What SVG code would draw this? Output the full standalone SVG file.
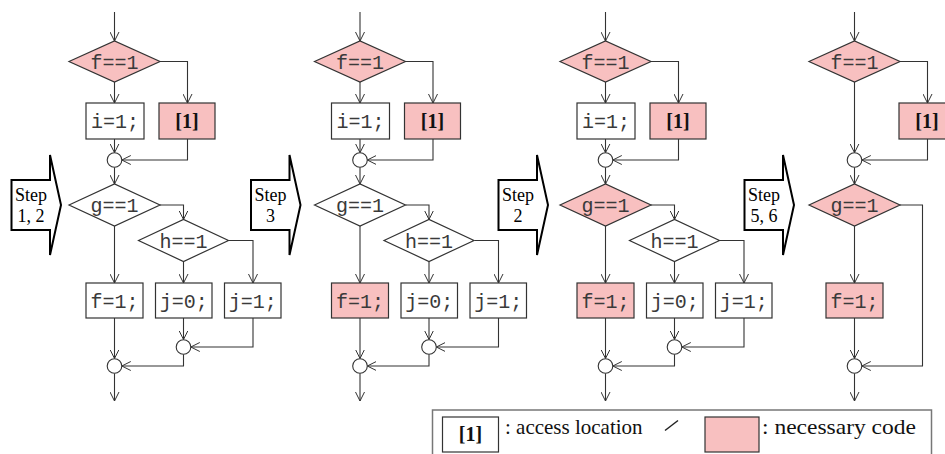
<svg xmlns="http://www.w3.org/2000/svg" width="945" height="454" viewBox="0 0 945 454">
  <style>
    .box { fill: #ffffff; stroke: #333333; stroke-width: 1.2; }
    .need { fill: #F8C0C0; }
    .code { font-family: "Liberation Mono", "Courier New", monospace; font-size: 20px; fill: #3a3a3a; text-anchor: middle; }
    .loc { font-family: "Liberation Serif", "Times New Roman", serif; font-size: 20px; font-weight: bold; fill: #111111; text-anchor: middle; }
    .wire { fill: none; stroke: #333333; stroke-width: 1.1; marker-end: url(#arr); }
    .join { fill: #ffffff; stroke: #333333; stroke-width: 1.1; }
    .step path { fill: #ffffff; stroke: #000000; stroke-width: 2; stroke-linejoin: miter; }
    .step text { font-family: "Liberation Serif", "Times New Roman", serif; font-size: 18px; fill: #000000; text-anchor: middle; }
    .legend { font-family: "Liberation Serif", "Times New Roman", serif; font-size: 21px; fill: #111111; }
  </style>
  <defs>
    <marker id="arr" viewBox="0 0 9 10" refX="9" refY="5" markerWidth="9" markerHeight="10" markerUnits="userSpaceOnUse" orient="auto">
      <path d="M0,0.5 L9,5 L0,9.5" fill="none" stroke="#333333" stroke-width="1"/>
    </marker>
  </defs>
  <rect width="945" height="454" fill="#ffffff"/>

  <!-- Flow chart 1: initial program -->
  <g id="chart1">
    <g id="c1-connectors">
      <path class="wire" d="M114.5,12 V41"/>
      <path class="wire" d="M114.5,82 V103"/>
      <path class="wire" d="M160,61.5 H187.5 V103"/>
      <path class="wire" d="M114.5,139 V152.7"/>
      <path class="wire" d="M187.5,139 V160 H121.8"/>
      <path class="wire" d="M114.5,167.3 V184"/>
      <path class="wire" d="M160,205 H183.5 V219.5"/>
      <path class="wire" d="M114.5,226 V283"/>
      <path class="wire" d="M183.5,261.5 V283"/>
      <path class="wire" d="M229,240.5 H253 V283"/>
      <path class="wire" d="M114.5,318 V358.5"/>
      <path class="wire" d="M183.5,318 V339.5"/>
      <path class="wire" d="M253,318 V347 H190.8"/>
      <path class="wire" d="M183.5,354.3 V366 H121.8"/>
      <path class="wire" d="M114.5,373.3 V401"/>
    </g>
    <g id="c1-f1"><polygon class="box need" points="69,61.5 114.5,41 160,61.5 114.5,82"/><text class="code" x="114.5" y="68.5">f==1</text></g>
    <g id="c1-i1"><rect class="box" x="86" y="103" width="58" height="36"/><text class="code" x="115" y="128">i=1;</text></g>
    <g id="c1-acc"><rect class="box need" x="159" y="103" width="56" height="36"/><text class="loc" x="187" y="128">[1]</text></g>
    <g id="c1-m1"><circle class="join" cx="114.5" cy="160" r="7.3"/></g>
    <g id="c1-g1"><polygon class="box" points="69,205 114.5,184 160,205 114.5,226"/><text class="code" x="114.5" y="212">g==1</text></g>
    <g id="c1-h1"><polygon class="box" points="138.5,240.5 183.5,219.5 228.5,240.5 183.5,261.5"/><text class="code" x="183.5" y="247.5">h==1</text></g>
    <g id="c1-fset"><rect class="box" x="86" y="283" width="57" height="35"/><text class="code" x="114.5" y="307.5">f=1;</text></g>
    <g id="c1-j0"><rect class="box" x="155.5" y="283" width="56.5" height="35"/><text class="code" x="183.75" y="307.5">j=0;</text></g>
    <g id="c1-j1"><rect class="box" x="224.5" y="283" width="56.5" height="35"/><text class="code" x="252.75" y="307.5">j=1;</text></g>
    <g id="c1-m2"><circle class="join" cx="183.5" cy="347" r="7.3"/></g>
    <g id="c1-m3"><circle class="join" cx="114.5" cy="366" r="7.3"/></g>
  </g>

  <!-- Flow chart 2: after step 1, 2 -->
  <g id="chart2" transform="translate(245.5,0)">
    <g id="c2-connectors">
      <path class="wire" d="M114.5,12 V41"/>
      <path class="wire" d="M114.5,82 V103"/>
      <path class="wire" d="M160,61.5 H187.5 V103"/>
      <path class="wire" d="M114.5,139 V152.7"/>
      <path class="wire" d="M187.5,139 V160 H121.8"/>
      <path class="wire" d="M114.5,167.3 V184"/>
      <path class="wire" d="M160,205 H183.5 V219.5"/>
      <path class="wire" d="M114.5,226 V283"/>
      <path class="wire" d="M183.5,261.5 V283"/>
      <path class="wire" d="M229,240.5 H253 V283"/>
      <path class="wire" d="M114.5,318 V358.5"/>
      <path class="wire" d="M183.5,318 V339.5"/>
      <path class="wire" d="M253,318 V347 H190.8"/>
      <path class="wire" d="M183.5,354.3 V366 H121.8"/>
      <path class="wire" d="M114.5,373.3 V401"/>
    </g>
    <g id="c2-f1"><polygon class="box need" points="69,61.5 114.5,41 160,61.5 114.5,82"/><text class="code" x="114.5" y="68.5">f==1</text></g>
    <g id="c2-i1"><rect class="box" x="86" y="103" width="58" height="36"/><text class="code" x="115" y="128">i=1;</text></g>
    <g id="c2-acc"><rect class="box need" x="159" y="103" width="56" height="36"/><text class="loc" x="187" y="128">[1]</text></g>
    <g id="c2-m1"><circle class="join" cx="114.5" cy="160" r="7.3"/></g>
    <g id="c2-g1"><polygon class="box" points="69,205 114.5,184 160,205 114.5,226"/><text class="code" x="114.5" y="212">g==1</text></g>
    <g id="c2-h1"><polygon class="box" points="138.5,240.5 183.5,219.5 228.5,240.5 183.5,261.5"/><text class="code" x="183.5" y="247.5">h==1</text></g>
    <g id="c2-fset"><rect class="box need" x="86" y="283" width="57" height="35"/><text class="code" x="114.5" y="307.5">f=1;</text></g>
    <g id="c2-j0"><rect class="box" x="155.5" y="283" width="56.5" height="35"/><text class="code" x="183.75" y="307.5">j=0;</text></g>
    <g id="c2-j1"><rect class="box" x="224.5" y="283" width="56.5" height="35"/><text class="code" x="252.75" y="307.5">j=1;</text></g>
    <g id="c2-m2"><circle class="join" cx="183.5" cy="347" r="7.3"/></g>
    <g id="c2-m3"><circle class="join" cx="114.5" cy="366" r="7.3"/></g>
  </g>

  <!-- Flow chart 3: after step 3 -->
  <g id="chart3" transform="translate(491,0)">
    <g id="c3-connectors">
      <path class="wire" d="M114.5,12 V41"/>
      <path class="wire" d="M114.5,82 V103"/>
      <path class="wire" d="M160,61.5 H187.5 V103"/>
      <path class="wire" d="M114.5,139 V152.7"/>
      <path class="wire" d="M187.5,139 V160 H121.8"/>
      <path class="wire" d="M114.5,167.3 V184"/>
      <path class="wire" d="M160,205 H183.5 V219.5"/>
      <path class="wire" d="M114.5,226 V283"/>
      <path class="wire" d="M183.5,261.5 V283"/>
      <path class="wire" d="M229,240.5 H253 V283"/>
      <path class="wire" d="M114.5,318 V358.5"/>
      <path class="wire" d="M183.5,318 V339.5"/>
      <path class="wire" d="M253,318 V347 H190.8"/>
      <path class="wire" d="M183.5,354.3 V366 H121.8"/>
      <path class="wire" d="M114.5,373.3 V401"/>
    </g>
    <g id="c3-f1"><polygon class="box need" points="69,61.5 114.5,41 160,61.5 114.5,82"/><text class="code" x="114.5" y="68.5">f==1</text></g>
    <g id="c3-i1"><rect class="box" x="86" y="103" width="58" height="36"/><text class="code" x="115" y="128">i=1;</text></g>
    <g id="c3-acc"><rect class="box need" x="159" y="103" width="56" height="36"/><text class="loc" x="187" y="128">[1]</text></g>
    <g id="c3-m1"><circle class="join" cx="114.5" cy="160" r="7.3"/></g>
    <g id="c3-g1"><polygon class="box need" points="69,205 114.5,184 160,205 114.5,226"/><text class="code" x="114.5" y="212">g==1</text></g>
    <g id="c3-h1"><polygon class="box" points="138.5,240.5 183.5,219.5 228.5,240.5 183.5,261.5"/><text class="code" x="183.5" y="247.5">h==1</text></g>
    <g id="c3-fset"><rect class="box need" x="86" y="283" width="57" height="35"/><text class="code" x="114.5" y="307.5">f=1;</text></g>
    <g id="c3-j0"><rect class="box" x="155.5" y="283" width="56.5" height="35"/><text class="code" x="183.75" y="307.5">j=0;</text></g>
    <g id="c3-j1"><rect class="box" x="224.5" y="283" width="56.5" height="35"/><text class="code" x="252.75" y="307.5">j=1;</text></g>
    <g id="c3-m2"><circle class="join" cx="183.5" cy="347" r="7.3"/></g>
    <g id="c3-m3"><circle class="join" cx="114.5" cy="366" r="7.3"/></g>
  </g>

  <!-- Flow chart 4: after step 5, 6 -->
  <g id="chart4" transform="translate(740,0)">
    <g id="c4-connectors">
      <path class="wire" d="M114.5,12 V41"/>
      <path class="wire" d="M114.5,82 V152.7"/>
      <path class="wire" d="M160,61.5 H187.5 V103"/>
      <path class="wire" d="M187.5,139 V160 H121.8"/>
      <path class="wire" d="M114.5,167.3 V184"/>
      <path class="wire" d="M114.5,226 V283"/>
      <path class="wire" d="M160,205 H182.5 V366 H121.8"/>
      <path class="wire" d="M114.5,318 V358.5"/>
      <path class="wire" d="M114.5,373.3 V401"/>
    </g>
    <g id="c4-f1"><polygon class="box need" points="69,61.5 114.5,41 160,61.5 114.5,82"/><text class="code" x="114.5" y="68.5">f==1</text></g>
    <g id="c4-acc"><rect class="box need" x="159" y="103" width="56" height="36"/><text class="loc" x="187" y="128">[1]</text></g>
    <g id="c4-m1"><circle class="join" cx="114.5" cy="160" r="7.3"/></g>
    <g id="c4-g1"><polygon class="box need" points="69,205 114.5,184 160,205 114.5,226"/><text class="code" x="114.5" y="212">g==1</text></g>
    <g id="c4-fset"><rect class="box need" x="86" y="283" width="57" height="35"/><text class="code" x="114.5" y="307.5">f=1;</text></g>
    <g id="c4-m3"><circle class="join" cx="114.5" cy="366" r="7.3"/></g>
  </g>

  <!-- Step arrows between the charts -->
  <g id="step12" class="step">
    <path d="M11.5,180 H50 V155 L61,205 L50,255 V230 H11.5 Z"/>
    <text x="31" y="200.5">Step</text><text x="31" y="222">1, 2</text>
  </g>
  <g id="step3" class="step" transform="translate(239.5,0)">
    <path d="M11.5,180 H50 V155 L61,205 L50,255 V230 H11.5 Z"/>
    <text x="31" y="200.5">Step</text><text x="31" y="222">3</text>
  </g>
  <g id="step2" class="step" transform="translate(487,0)">
    <path d="M11.5,180 H50 V155 L61,205 L50,255 V230 H11.5 Z"/>
    <text x="31" y="200.5">Step</text><text x="31" y="222">2</text>
  </g>
  <g id="step56" class="step" transform="translate(733,0)">
    <path d="M11.5,180 H50 V155 L61,205 L50,255 V230 H11.5 Z"/>
    <text x="31" y="200.5">Step</text><text x="31" y="222">5, 6</text>
  </g>

  <!-- Legend -->
  <g id="legend">
    <rect x="432.5" y="410" width="499" height="60" fill="#ffffff" stroke="#777777" stroke-width="1.5"/>
    <rect class="box" x="442.5" y="417" width="56" height="35"/>
    <text class="loc" x="470.5" y="441">[1]</text>
    <text class="legend" x="505" y="434">: access location</text>
    <path d="M665,430.5 L678,420.5" stroke="#222222" stroke-width="1.5"/>
    <rect class="box need" x="705" y="417" width="54" height="35"/>
    <text class="legend" x="762" y="434" font-size="22" textLength="154" lengthAdjust="spacingAndGlyphs">: necessary code</text>
  </g>
</svg>
